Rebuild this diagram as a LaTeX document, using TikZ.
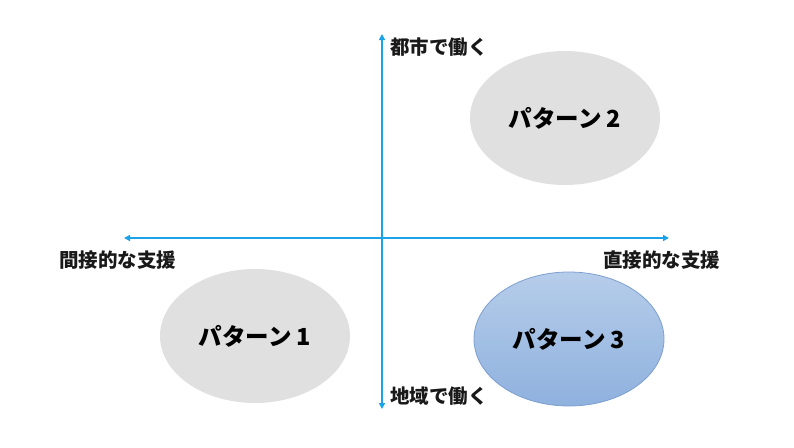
\documentclass[tikz,border=0pt]{standalone}
\usepackage{fontspec}
\setmainfont{Noto Sans CJK JP}
\usetikzlibrary{arrows.meta,shapes.geometric}
\definecolor{axisblue}{HTML}{1AA3E8}
\definecolor{greyfill}{HTML}{E0E0E0}
\definecolor{bluetop}{HTML}{B6CDEA}
\definecolor{bluebot}{HTML}{8FB1DE}
\definecolor{blueborder}{HTML}{7C9FD0}
\tikzset{
  axis/.style={draw=axisblue, line width=2pt, -{Triangle[length=6pt,width=6pt]}},
  lbl/.style={font=\bfseries\fontsize{19.5}{22}\selectfont, text=black!90, inner sep=0pt},
  pat/.style={ellipse, minimum width=190pt, minimum height=134pt, inner sep=0pt, font=\bfseries\fontsize{23.5}{26}\selectfont},
  greypat/.style={pat, fill=greyfill},
  bluepat/.style={pat, top color=bluetop, bottom color=bluebot, draw=blueborder, line width=0.8pt}
}
\begin{document}
\begin{tikzpicture}[x=1pt,y=-1pt]
\useasboundingbox (0,0) rectangle (794,447);
\coordinate (c) at (382,238);
\coordinate (top) at (382,34);
\coordinate (bot) at (382,409);
\coordinate (left) at (124,238);
\coordinate (right) at (669,238);
\node[greypat] (p2) at (565,118) {パターン 2};
\node[greypat] (p1) at (255,336) {パターン 1};
\node[bluepat] (p3) at (569,339) {パターン 3};
\draw[axis] (c) -- (top);
\draw[axis] (c) -- (bot);
\draw[axis] (c) -- (left);
\draw[axis] (c) -- (right);
\node[lbl, anchor=west] (tl) at (390,47) {都市で働く};
\node[lbl, anchor=west] (bl) at (390,396) {地域で働く};
\node[lbl, anchor=west] (ll) at (59,260) {間接的な支援};
\node[lbl, anchor=west] (rl) at (603,260) {直接的な支援};
\end{tikzpicture}
\end{document}
